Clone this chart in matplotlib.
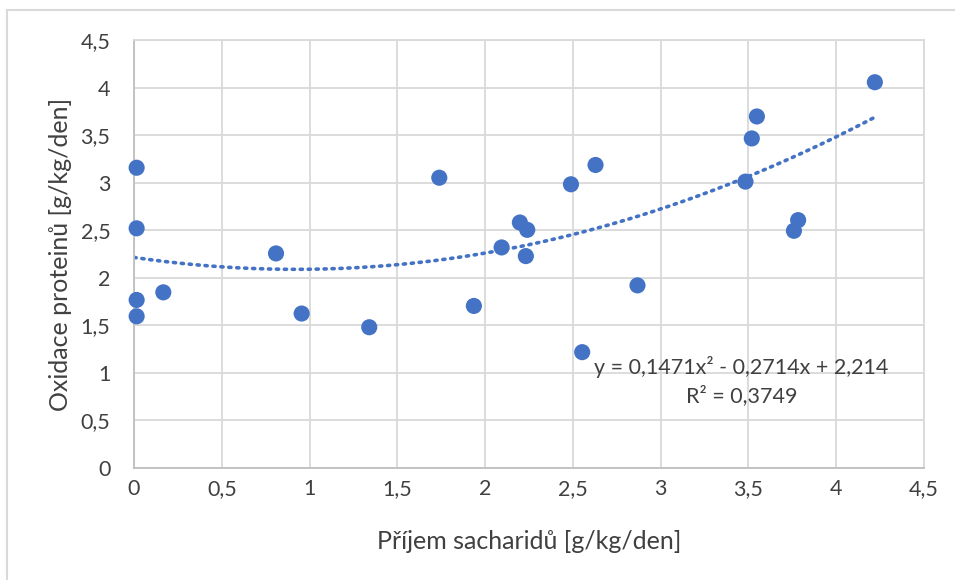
import numpy as np
import matplotlib
matplotlib.use("Agg")
import matplotlib.pyplot as plt
from matplotlib.ticker import FuncFormatter, MultipleLocator
from matplotlib.lines import Line2D

plt.rcParams['font.family'] = ['Lato', 'DejaVu Sans']

# Data
carb_intake = [0.015, 0.015, 0.015, 0.015, 0.167, 0.809, 0.955, 1.34,
               1.739, 1.936, 2.094, 2.198, 2.240, 2.232, 2.489, 2.629,
               2.868, 2.553, 4.22, 3.548, 3.519, 3.483, 3.783, 3.759]
protein_ox = [3.157, 2.52, 1.767, 1.595, 1.847, 2.256, 1.624, 1.48,
              3.052, 1.704, 2.319, 2.581, 2.504, 2.228, 2.983, 3.186,
              1.920, 1.218, 4.056, 3.696, 3.465, 3.011, 2.606, 2.494]
trend_coef = [0.1471, -0.2714, 2.214]
equation_text = "y = 0,1471x² - 0,2714x + 2,214"
r2_text = "R² = 0,3749"
x_label = "Příjem sacharidů [g/kg/den]"
y_label = "Oxidace proteinů [g/kg/den]"

blue = "#4472C4"
grid_c = "#D9D9D9"
txt_c = "#404040"

fig = plt.figure(figsize=(9.55, 5.8), dpi=100)
# outer chart border (left and top visible)
fig.add_artist(Line2D([7/955, 7/955], [0, 1 - 10/580], transform=fig.transFigure, color=grid_c, lw=1.5))
fig.add_artist(Line2D([7/955, 1], [1 - 10/580, 1 - 10/580], transform=fig.transFigure, color=grid_c, lw=1.5))

ax = fig.add_axes([134/955, 1 - 468/580, (924 - 134)/955, (468 - 40)/580])
ax.set_xlim(0, 4.5)
ax.set_ylim(0, 4.5)
ax.xaxis.set_major_locator(MultipleLocator(0.5))
ax.yaxis.set_major_locator(MultipleLocator(0.5))
fmt = FuncFormatter(lambda v, p: ("%g" % round(v, 2)).replace('.', ','))
ax.xaxis.set_major_formatter(fmt)
ax.yaxis.set_major_formatter(fmt)
ax.grid(True, color=grid_c, lw=1.3)
ax.set_axisbelow(True)
for s in ax.spines.values():
    s.set_color(grid_c)
    s.set_linewidth(1.3)
ax.spines['left'].set_color("#BFBFBF")
ax.spines['bottom'].set_color("#BFBFBF")
ax.tick_params(length=0, labelsize=15.5, colors=txt_c)
ax.tick_params(axis='x', pad=8)
ax.tick_params(axis='y', pad=17)

xs = np.linspace(0, max(carb_intake), 200)
ys = np.polyval(trend_coef, xs)
ax.plot(xs, ys, color=blue, lw=2.6, linestyle=(0, (0.6, 1.6)), dash_capstyle='round', zorder=2)

ax.scatter(carb_intake, protein_ox, s=135, color=blue, edgecolors='none', zorder=3, clip_on=False)

ax.text(3.46, 1.058, equation_text, fontsize=15.5, color=txt_c, ha='center', va='center')
ax.text(3.46, 0.764, r2_text, fontsize=15.5, color=txt_c, ha='center', va='center')

ax.set_xlabel(x_label, fontsize=18, color=txt_c, labelpad=22)
ax.set_ylabel(y_label, fontsize=18, color=txt_c, labelpad=6)

fig.savefig("out.png", dpi=100, facecolor="white")
